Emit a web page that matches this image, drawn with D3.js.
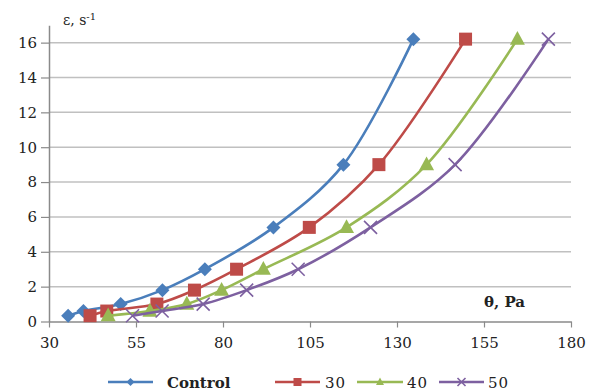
<!DOCTYPE html>
<html>
<head>
<meta charset="utf-8">
<script src="https://cdn.jsdelivr.net/npm/d3@7"></script>
<style>
  html, body { margin: 0; padding: 0; background: #fff; }
  svg { display: block; }
  text { font-family: "DejaVu Serif", "Liberation Serif", serif; }
</style>
</head>
<body>
<svg id="chart" width="589" height="392"></svg>
<script>
// Shear rate (s^-1) steps shared by every series
const shearRates = [0.333, 0.6, 1.0, 1.8, 3.0, 5.4, 9.0, 16.2];
// Shear stress (Pa) for each sample
const stressControl = [35.5, 39.9, 50.6, 62.6, 74.8, 94.5, 114.6, 134.7];
const stress30 = [41.8, 46.6, 61.0, 71.8, 83.9, 104.8, 124.8, 149.7];
const stress40 = [47.0, 59.0, 69.6, 79.6, 91.6, 115.5, 138.5, 164.6];
const stress50 = [54.0, 62.5, 74.3, 86.8, 101.6, 122.4, 146.7, 173.5];
const seriesNames = ["Control", "30", "40", "50"];
const xTicks = [30, 55, 80, 105, 130, 155, 180];
const yTicks = [0, 2, 4, 6, 8, 10, 12, 14, 16];

const series = [
  { name: seriesNames[0], xs: stressControl, color: "#4a7ebb", marker: "diamond" },
  { name: seriesNames[1], xs: stress30, color: "#be4b48", marker: "square" },
  { name: seriesNames[2], xs: stress40, color: "#98b954", marker: "triangle" },
  { name: seriesNames[3], xs: stress50, color: "#7d60a0", marker: "cross" }
];

const svg = d3.select("#chart");
const x = d3.scaleLinear().domain([30, 180]).range([49, 571]);
const y = d3.scaleLinear().domain([0, 17]).range([321.5, 25.2]);

// Horizontal gridlines
svg.append("g").selectAll("line").data(yTicks.filter(d => d > 0)).join("line")
  .attr("x1", x(30)).attr("x2", x(180))
  .attr("y1", d => y(d)).attr("y2", d => y(d))
  .attr("stroke", "#c0c0c0").attr("stroke-width", 1.5);

// Y axis
const yAxis = svg.append("g").attr("transform", `translate(${x(30)},0)`)
  .call(d3.axisLeft(y).tickValues(yTicks).tickSize(8).tickPadding(4).tickSizeOuter(0));
// X axis
const xAxis = svg.append("g").attr("transform", `translate(0,${y(0)})`)
  .call(d3.axisBottom(x).tickValues(xTicks).tickSize(6).tickPadding(10).tickSizeOuter(0));

[yAxis, xAxis].forEach(ax => {
  ax.attr("font-family", null).attr("font-size", 15);
  ax.select(".domain").attr("stroke", "#8a8a8a").attr("stroke-width", 1.5);
  ax.selectAll(".tick line").attr("stroke", "#8a8a8a").attr("stroke-width", 1.2);
  ax.selectAll(".tick text").attr("fill", "#222");
});

// Axis titles
const yTitle = svg.append("text").attr("x", 63).attr("y", 25)
  .attr("font-size", 14).attr("fill", "#222");
yTitle.append("tspan").text("ε, s");
yTitle.append("tspan").attr("dy", -5).attr("font-size", 10).text("-1");

svg.append("text").attr("x", 484).attr("y", 307)
  .attr("font-size", 15).attr("font-weight", "bold")
  .attr("fill", "#222").text("θ, Pa");

// Marker drawing
function drawMarker(g, type, color, s) {
  if (type === "diamond") {
    g.append("path").attr("d", `M0,${-s}L${s},0L0,${s}L${-s},0Z`).attr("fill", color);
  } else if (type === "square") {
    g.append("rect").attr("x", -s).attr("y", -s).attr("width", 2 * s).attr("height", 2 * s).attr("fill", color);
  } else if (type === "triangle") {
    g.append("path").attr("d", `M0,${-s * 1.1}L${s},${s * 0.75}L${-s},${s * 0.75}Z`).attr("fill", color);
  } else {
    g.append("path").attr("d", `M${-s},${-s}L${s},${s}M${-s},${s}L${s},${-s}`)
      .attr("stroke", color).attr("stroke-width", 1.6).attr("fill", "none");
  }
}

const markerSize = { diamond: 7, square: 6.5, triangle: 7.5, cross: 6.5 };

const line = d3.line().x(d => x(d[0])).y(d => y(d[1])).curve(d3.curveCatmullRom.alpha(0.5));

series.forEach(s => {
  const pts = s.xs.map((v, i) => [v, shearRates[i]]);
  svg.append("path").datum(pts).attr("d", line)
    .attr("fill", "none").attr("stroke", s.color).attr("stroke-width", 2.6);
  svg.append("g").selectAll("g").data(pts).join("g")
    .attr("transform", d => `translate(${x(d[0])},${y(d[1])})`)
    .each(function () { drawMarker(d3.select(this), s.marker, s.color, markerSize[s.marker]); });
});

// Legend
const legendItems = [
  { x0: 108, x1: 153, tx: 167, bold: true },
  { x0: 275, x1: 320, tx: 325, bold: false },
  { x0: 357, x1: 403, tx: 407, bold: false },
  { x0: 439, x1: 484, tx: 488, bold: false }
];
const ly = 382;
series.forEach((s, i) => {
  const li = legendItems[i];
  const g = svg.append("g");
  g.append("line").attr("x1", li.x0).attr("x2", li.x1).attr("y1", ly).attr("y2", ly)
    .attr("stroke", s.color).attr("stroke-width", 2.6);
  const m = g.append("g").attr("transform", `translate(${(li.x0 + li.x1) / 2},${ly})`);
  drawMarker(m, s.marker, s.color, 4);
  g.append("text").attr("x", li.tx).attr("y", ly + 6)
    .attr("font-size", 15)
    .attr("font-weight", li.bold ? "bold" : "normal")
    .attr("letter-spacing", li.bold ? 0 : 1)
    .attr("fill", "#222").text(s.name);
});
</script>
</body>
</html>
